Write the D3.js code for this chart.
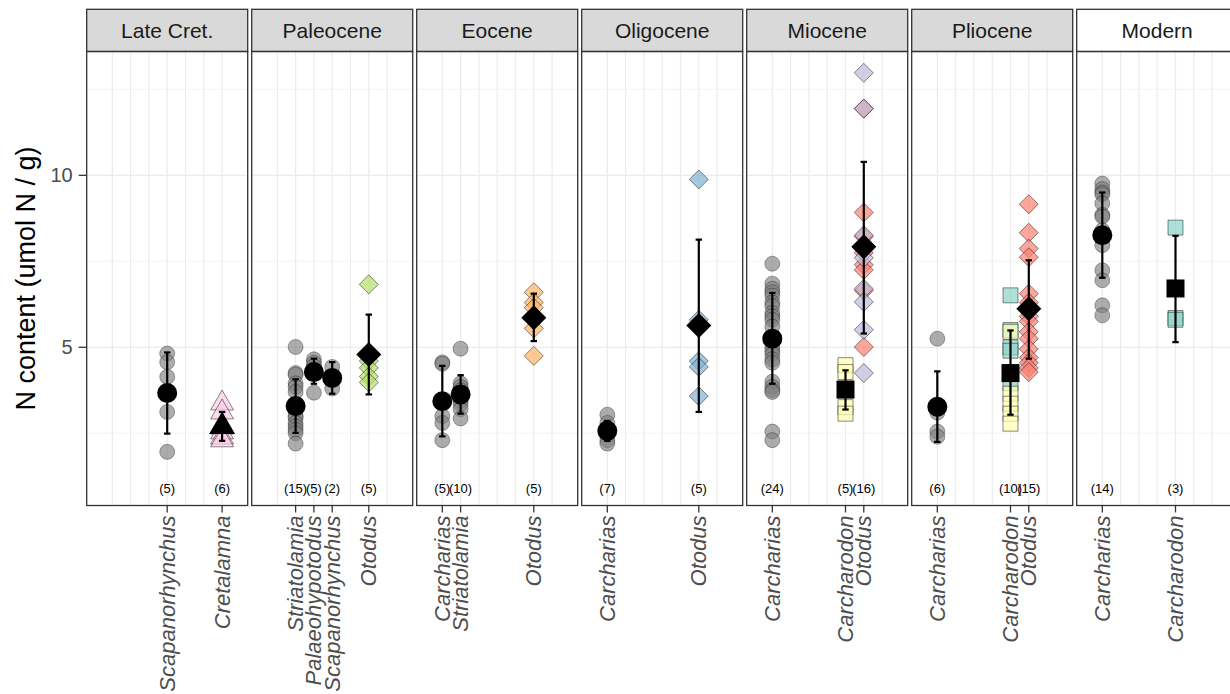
<!DOCTYPE html>
<html><head><meta charset="utf-8">
<script src="https://cdn.jsdelivr.net/npm/d3@7"></script>
<style>html,body{margin:0;padding:0;background:#fff;} svg{display:block;}</style>
</head><body><svg id="chart" width="1230" height="694"></svg>
<script>
// ---------- data ----------
const epochs = ["Late Cret.", "Paleocene", "Eocene", "Oligocene", "Miocene", "Pliocene", "Modern"];
const genera = ["Carcharias", "Striatolamia", "Palaeohypotodus", "Scapanorhynchus", "Carcharodon", "Otodus", "Cretalamna"];
const yTicks = [5, 10];
const yMinorTicks = [2.5, 7.5, 12.5];

const groupEpoch = ["Late Cret.", "Late Cret.", "Paleocene", "Paleocene", "Paleocene", "Paleocene",
  "Eocene", "Eocene", "Eocene", "Oligocene", "Oligocene", "Miocene", "Miocene", "Miocene",
  "Pliocene", "Pliocene", "Pliocene", "Modern", "Modern"];
const groupGenus = ["Scapanorhynchus", "Cretalamna", "Striatolamia", "Palaeohypotodus", "Scapanorhynchus", "Otodus",
  "Carcharias", "Striatolamia", "Otodus", "Carcharias", "Otodus", "Carcharias", "Carcharodon", "Otodus",
  "Carcharias", "Carcharodon", "Otodus", "Carcharias", "Carcharodon"];
const groupCount = [5, 6, 15, 5, 2, 5, 5, 10, 5, 7, 5, 24, 5, 16, 6, 10, 15, 14, 3];
const groupMean  = [3.67, 2.70, 3.29, 4.28, 4.11, 4.79, 3.43, 3.63, 5.86, 2.57, 5.63, 5.25, 3.77, 7.92, 3.27, 4.25, 6.12, 8.26, 6.71];
const groupLower = [2.49, 2.28, 2.51, 3.94, 3.65, 3.63, 2.41, 3.07, 5.18, 2.28, 3.12, 3.94, 3.19, 5.40, 2.25, 3.04, 4.67, 7.02, 5.15];
const groupUpper = [4.85, 3.12, 4.07, 4.67, 4.57, 5.95, 4.46, 4.19, 6.56, 2.86, 8.13, 6.58, 4.33, 10.39, 4.30, 5.49, 7.53, 9.50, 8.24];

const pointValues = [
  [4.82, 4.57, 4.14, 3.12, 1.96],
  [3.37, 3.11, 2.67, 2.53, 2.38, 2.30],
  [5.01, 4.25, 4.20, 3.95, 3.85, 3.70, 3.30, 3.25, 3.00, 2.95, 2.80, 2.70, 2.60, 2.50, 2.20],
  [4.65, 4.55, 4.45, 4.35, 3.68],
  [4.43, 3.80],
  [6.83, 4.60, 4.40, 4.15, 3.98],
  [4.56, 4.52, 3.00, 2.80, 2.30],
  [4.96, 3.95, 3.85, 3.75, 3.65, 3.55, 3.45, 3.35, 3.20, 2.93],
  [6.60, 6.30, 6.15, 5.55, 4.75],
  [3.04, 2.80, 2.65, 2.55, 2.45, 2.30, 2.20],
  [9.88, 5.80, 4.60, 4.43, 3.58],
  [7.43, 6.85, 6.70, 6.60, 6.50, 6.30, 6.20, 6.00, 5.90, 5.80, 5.60, 5.30, 5.20, 5.00, 4.90, 4.80, 4.65, 4.55, 4.00, 3.85, 3.75, 3.70, 2.55, 2.30],
  [4.48, 4.28, 3.80, 3.26, 3.07],
  [11.94, 8.92, 8.22, 7.40, 7.25, 6.65, 5.01, 7.75, 12.98, 11.94, 8.26, 7.60, 6.70, 6.32, 5.51, 4.25],
  [5.25, 3.30, 3.20, 3.10, 2.55, 2.40],
  [6.51, 5.50, 5.00, 4.90, 3.95, 5.45, 3.65, 3.36, 3.07, 2.78],
  [9.16, 8.33, 7.87, 7.62, 6.56, 6.30, 5.90, 5.75, 5.45, 5.25, 4.95, 4.70, 4.55, 4.40, 4.28],
  [9.76, 9.60, 9.50, 9.45, 9.18, 8.85, 8.80, 8.40, 8.30, 7.97, 7.24, 6.95, 6.22, 5.93],
  [8.48, 5.85, 5.80]
];
// fill key per point (one key = whole group)
const pointFills = [
  "grey", "pink", "grey", "grey", "grey", "green", "grey", "grey", "orange", "grey", "blue", "grey", "yellow",
  ["sal", "sal", "sal", "sal", "sal", "sal", "sal", "sal", "lav", "lav", "lav", "lav", "lav", "lav", "lav", "lav"],
  "grey",
  ["teal", "teal", "teal", "teal", "teal", "yellow", "yellow", "yellow", "yellow", "yellow"],
  "sal", "grey", "teal"
];
const fillColors = {grey: "#808080", pink: "#FCCDE5", green: "#B3DE69", orange: "#FDB462", blue: "#80B1D3",
  yellow: "#FFFFB3", lav: "#BEBADA", sal: "#FB8072", teal: "#8DD3C7"};
const genusShape = {Carcharias: "circle", Striatolamia: "circle", Palaeohypotodus: "circle", Scapanorhynchus: "circle",
  Carcharodon: "square", Otodus: "diamond", Cretalamna: "triangle"};

// ---------- layout ----------
const svg = d3.select("#chart");
const font = "'Liberation Sans', Arial, Helvetica, sans-serif";
const panelLeft0 = 86.7, panelW = 161, panelStep = 165;
const panelTop = 51.5, panelBottom = 505.5, stripTop = 9.3;

const y = d3.scaleLinear().domain([0.4, 13.6]).range([panelBottom, panelTop]);
const xInner = d3.scaleLinear().domain([-0.4, 8.4]).range([0, panelW]);
const panelX = d3.scaleBand().domain(epochs).range([panelLeft0, panelLeft0 + panelStep * epochs.length]).paddingInner(0);
const slot = g => genera.indexOf(g) + 1;
const gx = (epoch, genus) => panelX(epoch) + xInner(slot(genus));

function shapePath(shape, cx, cy, s) {
  if (shape === "circle") return `M${cx - s},${cy}a${s},${s} 0 1,0 ${2 * s},0a${s},${s} 0 1,0 ${-2 * s},0Z`;
  if (shape === "diamond") return `M${cx},${cy - s}L${cx + s},${cy}L${cx},${cy + s}L${cx - s},${cy}Z`;
  if (shape === "square") return `M${cx - s},${cy - s}h${2 * s}v${2 * s}h${-2 * s}Z`;
  const h = s * Math.sqrt(3);
  return `M${cx},${cy - h * 2 / 3}L${cx + s},${cy + h / 3}L${cx - s},${cy + h / 3}Z`;
}
const ptSize = {circle: 7.5, diamond: 9.5, square: 7.5, triangle: 11.5};
const meanSize = {circle: 10, diamond: 12.5, square: 9, triangle: 13};

// ---------- panels ----------
epochs.forEach(ep => {
  const left = panelX(ep);
  const g = svg.append("g");
  yMinorTicks.forEach(v => g.append("line").attr("x1", left).attr("x2", left + panelW)
    .attr("y1", y(v)).attr("y2", y(v)).attr("stroke", "#EBEBEB").attr("stroke-width", 0.6));
  yTicks.forEach(v => g.append("line").attr("x1", left).attr("x2", left + panelW)
    .attr("y1", y(v)).attr("y2", y(v)).attr("stroke", "#EBEBEB").attr("stroke-width", 1.2));
  genera.forEach(gn => g.append("line").attr("x1", gx(ep, gn)).attr("x2", gx(ep, gn))
    .attr("y1", panelTop).attr("y2", panelBottom).attr("stroke", "#EBEBEB").attr("stroke-width", 1.2));
  svg.append("rect").attr("x", left).attr("y", stripTop).attr("width", panelW).attr("height", panelTop - stripTop)
    .attr("fill", ep === "Modern" ? "#FFFFFF" : "#D9D9D9").attr("stroke", "#333333").attr("stroke-width", 1.3);
  svg.append("text").attr("x", left + panelW / 2).attr("y", (stripTop + panelTop) / 2)
    .attr("text-anchor", "middle").attr("dominant-baseline", "central")
    .attr("font-family", font).attr("font-size", 21).attr("fill", "#1A1A1A").text(ep);
});

// ---------- marks ----------
const marks = svg.append("g");
groupEpoch.forEach((ep, i) => {
  const gn = groupGenus[i], shape = genusShape[gn], cx = gx(ep, gn);
  pointValues[i].forEach((v, j) => {
    const key = Array.isArray(pointFills[i]) ? pointFills[i][j] : pointFills[i];
    marks.append("path").attr("d", shapePath(shape, cx, y(v), ptSize[shape]))
      .attr("fill", fillColors[key]).attr("fill-opacity", key === "grey" ? 0.65 : 0.7)
      .attr("stroke", "#000").attr("stroke-opacity", key === "grey" ? 0.35 : 0.5).attr("stroke-width", 0.9);
  });
});
groupEpoch.forEach((ep, i) => {
  const gn = groupGenus[i], shape = genusShape[gn], cx = gx(ep, gn);
  marks.append("line").attr("x1", cx).attr("x2", cx).attr("y1", y(groupLower[i])).attr("y2", y(groupUpper[i]))
    .attr("stroke", "#000").attr("stroke-width", 2.2);
  [groupLower[i], groupUpper[i]].forEach(v => marks.append("line").attr("x1", cx - 3.2).attr("x2", cx + 3.2)
    .attr("y1", y(v)).attr("y2", y(v)).attr("stroke", "#000").attr("stroke-width", 2.2));
  marks.append("path").attr("d", shapePath(shape, cx, y(groupMean[i]), meanSize[shape])).attr("fill", "#000");
  marks.append("text").attr("x", cx).attr("y", y(0.9)).attr("text-anchor", "middle").attr("dominant-baseline", "central")
    .attr("font-family", font).attr("font-size", 13).attr("fill", "#000").text(`(${groupCount[i]})`);
});

// ---------- borders, axes ----------
epochs.forEach(ep => {
  const left = panelX(ep);
  svg.append("rect").attr("x", left).attr("y", panelTop).attr("width", panelW).attr("height", panelBottom - panelTop)
    .attr("fill", "none").attr("stroke", "#333333").attr("stroke-width", 1.3);
  const present = genera.filter(gn => groupEpoch.some((e, i) => e === ep && groupGenus[i] === gn));
  present.forEach(gn => {
    const x = gx(ep, gn);
    svg.append("line").attr("x1", x).attr("x2", x).attr("y1", panelBottom).attr("y2", panelBottom + 7)
      .attr("stroke", "#333333").attr("stroke-width", 1.3);
    svg.append("text").attr("transform", `translate(${x},${panelBottom + 10}) rotate(-90)`)
      .attr("text-anchor", "end").attr("dominant-baseline", "central")
      .attr("font-family", font).attr("font-style", "italic").attr("font-size", 22).attr("fill", "#4D4D4D").text(gn);
  });
});
yTicks.forEach(v => {
  svg.append("line").attr("x1", panelLeft0 - 8).attr("x2", panelLeft0).attr("y1", y(v)).attr("y2", y(v))
    .attr("stroke", "#333333").attr("stroke-width", 1.3);
  svg.append("text").attr("x", panelLeft0 - 14).attr("y", y(v)).attr("text-anchor", "end").attr("dominant-baseline", "central")
    .attr("font-family", font).attr("font-size", 20).attr("fill", "#4D4D4D").text(v);
});
svg.append("text").attr("transform", `translate(35,${(panelTop + panelBottom) / 2}) rotate(-90)`)
  .attr("text-anchor", "middle").attr("font-family", font).attr("font-size", 27).attr("fill", "#000")
  .text("N content (umol N / g)");
</script></body></html>
